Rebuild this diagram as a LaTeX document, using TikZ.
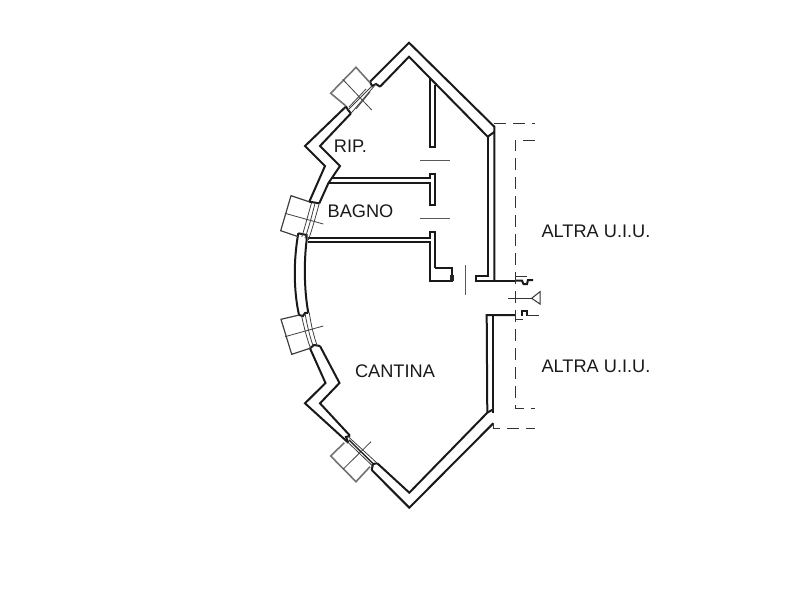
\documentclass[tikz,border=0pt]{standalone}
\usepackage{fontspec}
\setmainfont{Liberation Sans}
\begin{document}
\begin{tikzpicture}[
  x=0.5pt, y=-0.5pt,
  muro/.style = {line width=1pt, black!90, line join=miter},
  tramezzo/.style = {line width=0.85pt, black!90},
  infisso/.style = {line width=0.4pt, black!75},
  tenda/.style = {line width=0.8pt, black!55},
  tendascura/.style = {line width=0.6pt, black!75},
  confine/.style = {line width=0.5pt, black!80, dash pattern=on 6pt off 3.5pt},
  porta/.style = {line width=0.45pt, black!65},
  stanza/.style = {font=\fontsize{9.1}{10}\selectfont, inner sep=0pt, text=black!90}
]
  \useasboundingbox (0,0) rectangle (800,600);
  % outer face of the wall
  \draw[muro] (370,81.7) -- (409,42.7) -- (494.3,126.7) -- (494.3,137) -- (494.3,280);
  \draw[muro] (346,106.5) -- (305,146) -- (325,166) -- (309.3,201.7);
  \draw[muro] (298.3,233.3) .. controls (293.5,260) and (293.5,290) .. (299,315);
  \draw[muro] (310,348.3) -- (325.5,383) -- (305,403.3) -- (348.3,442.7);
  \draw[muro] (371.7,470) -- (409.3,507.7) -- (493.3,423.3);
  \draw[muro] (493.3,315) -- (493.3,413);
  % inner face of the wall
  \draw[muro] (380,86.7) -- (409,56.7) -- (487.7,136.7) -- (494.3,132);
  \draw[muro] (487.7,136.7) -- (487.7,276) -- (476,276) -- (476,280.7) -- (515,280.7);
  \draw[muro] (351,113.3) -- (320,146) -- (340,166) -- (328.3,183.3) -- (319.3,203.3);
  \draw[muro] (306.7,240) .. controls (304,260) and (304,290) .. (308.3,312.7);
  \draw[muro] (320,346) -- (339.5,383) -- (320,403.3) -- (350,435.7);
  \draw[muro] (377.3,463.3) -- (409.3,492.7) -- (487.3,412.7) -- (493.3,409.3);
  \draw[muro] (515,315) -- (486.7,315) -- (487.3,412.7);
  % jambs
  \draw[muro] (370,81.7) -- (372,86) -- (376,84) -- (380,86.7);
  \draw[muro] (346,106.5) -- (348,110) -- (351,113.3);
  \draw[muro] (309.3,201.7) -- (319.3,203.3);
  \draw[muro] (298.3,233.3) -- (306.7,235) -- (306.7,240);
  \draw[muro] (299,315) -- (303,316) -- (305,313) -- (308.3,312.7);
  \draw[muro] (310,348.3) -- (314,345) -- (320,346);
  \draw[muro] (348.3,442.7) -- (346,437) -- (350,435.7);
  \draw[muro] (371.7,470) -- (373,464) -- (377.3,463.3);
  % partitions
  \draw[tramezzo] (430,78.3) -- (430,147) -- (435,147) -- (435,85);
  \draw[tramezzo] (331.7,178.3) -- (430,178.3) -- (430,174) -- (435,174) -- (435,205) -- (430,205) -- (430,183.3) -- (328.3,183.3);
  \draw[tramezzo] (308,238.3) -- (430,238.3) -- (430,231.7) -- (435,231.7) -- (435,268.3);
  \draw[tramezzo] (308,242.3) -- (430,242.3) -- (430,280.7) -- (451.7,280.7) -- (451.7,268.3) -- (435,268.3);
  \fill[black!85] (450,275) rectangle (454,280.7);
  % door lines
  \draw[porta] (420,160) -- (450,160);
  \draw[porta] (420,218.7) -- (450,218.7);
  \draw[porta] (465.7,265) -- (465.7,295);
  % entrance sill
  \draw[muro] (515,280.7) -- (522,280.7) -- (523.5,284) -- (527,284) -- (528,280) -- (533,280);
  \draw[muro] (521.7,316) -- (521.7,311) -- (526.7,311) -- (526.7,316);
  % windows, upper
  \draw[tenda] (370,82.7) -- (356,67.3) -- (330.7,93.3) -- (346,106);
  \draw[infisso] (342.7,79.3) -- (371.7,110);
  \draw[infisso] (372,86) -- (348,110);
  \draw[infisso] (376,84) -- (351,113.3);
  \draw[infisso] (366,89) -- (349,107);
  \draw[infisso] (356,109) -- (370,92);
  % windows, bagno
  \draw[tendascura] (309,201.7) -- (291,195.7) -- (280.7,230.7) -- (298.3,236.7);
  \draw[infisso] (285,213.3) -- (323.3,224);
  \draw[infisso] (315,203.3) .. controls (312,215) and (309,227) .. (305,238.3);
  \draw[infisso] (319.3,203.3) .. controls (316,215) and (313,227) .. (308.3,240);
  \draw[infisso] (311.5,203) .. controls (308,215) and (305,227) .. (301.7,237);
  % windows, cantina
  \draw[tendascura] (299.3,315) -- (281,319.3) -- (291.7,354.3) -- (310,348.3);
  \draw[infisso] (285,336.7) -- (323.3,326);
  \draw[infisso] (305,313.3) .. controls (307,325) and (310,337) .. (313.3,346.7);
  \draw[infisso] (309.3,312.7) .. controls (311,325) and (314,337) .. (317.3,346);
  \draw[infisso] (301.5,315.5) .. controls (304,327) and (307,339) .. (310.5,348);
  % windows, lower
  \draw[tenda] (344.3,442.7) -- (330.7,456) -- (356,481.7) -- (370,466.7);
  \draw[infisso] (343.3,469) -- (371,441.7);
  \draw[infisso] (348.3,436.7) -- (377.3,463.3);
  \draw[infisso] (347.3,441.7) -- (373.3,466.7);
  \draw[line width=0.7pt, black!85] (349,440) -- (373,463.5);
  % dashed boundaries
  \draw[confine] (494.3,123) -- (535,123);
  \draw[confine] (535,140) -- (515,140) -- (515,408.3) -- (535,408.3);
  \draw[confine] (493.3,423) -- (493.3,428.3) -- (535,428.3);
  \draw[confine] (515,276) -- (534,276);
  \draw[confine] (515,315) -- (515,319) -- (526,319);
  \draw[confine] (527,315) -- (540,315);
  % entrance mark
  \draw[line width=0.5pt, black!80] (507.7,298.3) -- (531.7,298.3);
  \draw[line width=0.5pt, black!80] (531.7,298.3) -- (540,291.7) -- (540,304) -- cycle;
  % labels
  \node[stanza] (rip) at (350.5,146) {RIP.};
  \node[stanza] (bagno) at (360.5,211) {BAGNO};
  \node[stanza] (cantina) at (395,371) {CANTINA};
  \node[stanza] (altra1) at (596,231) {ALTRA U.I.U.};
  \node[stanza] (altra2) at (596,366) {ALTRA U.I.U.};
\end{tikzpicture}
\end{document}
